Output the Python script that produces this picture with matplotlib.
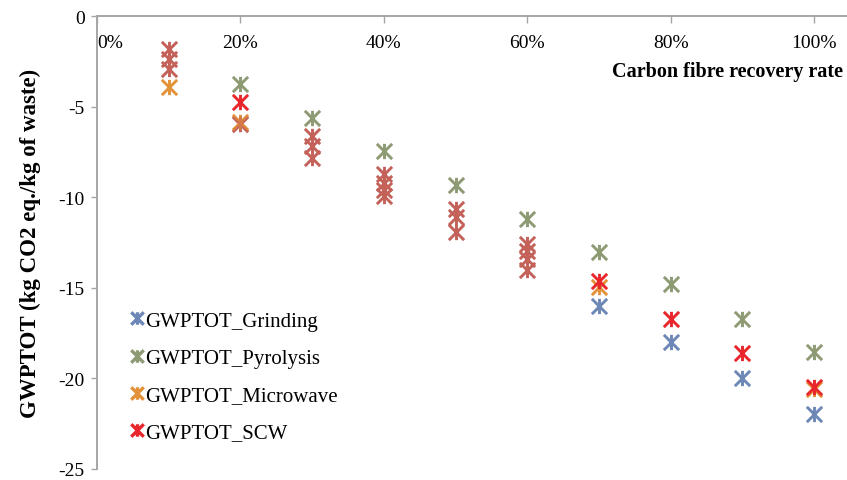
import matplotlib

matplotlib.use("Agg")
import matplotlib.pyplot as plt
from matplotlib.path import Path
from matplotlib.lines import Line2D

plt.rcParams["font.family"] = ["Liberation Serif", "DejaVu Serif"]
plt.rcParams["axes.unicode_minus"] = False

# values (kg CO2 eq./kg of waste)
grinding_rate = [70, 80, 90, 100]
grinding = [-16.0, -18.0, -20.0, -21.95]
pyrolysis_rate = [20, 30, 40, 50, 60, 70, 80, 90, 100]
pyrolysis = [-3.75, -5.65, -7.45, -9.3, -11.2, -13.0, -14.8, -16.7, -18.55]
microwave_rate = [10, 20, 70, 100]
microwave = [-3.9, -5.85, -14.95, -20.6]
scw_rate = [20, 70, 80, 90, 100]
scw = [-4.75, -14.65, -16.7, -18.6, -20.45]
# markers of several series stacked on each other (drawn blended, brown-red)
overlap_rate = [10, 10, 10, 20, 30, 30, 30, 40, 40, 40, 40,
                50, 50, 50, 60, 60, 60, 60]
overlap = [-1.8, -2.35, -2.9, -5.95, -6.6, -7.2, -7.85, -8.7, -9.2, -9.6, -9.95,
           -10.65, -11.1, -11.9, -12.6, -12.95, -13.4, -14.0]

x_ticks = [0, 20, 40, 60, 80, 100]
y_ticks = [0, -5, -10, -15, -20, -25]

# X with a vertical bar, like the spreadsheet "star" marker
STAR = Path([(-1, -1), (1, 1), (-1, 1), (1, -1), (0, -1), (0, 1)],
            [Path.MOVETO, Path.LINETO] * 3)

C_GRIND = "#6d87b7"
C_PYRO = "#8e9a74"
C_MICRO = "#e3923a"
C_SCW = "#e8262b"
C_MIX = "#c4625a"

fig = plt.figure(figsize=(8.47, 4.81), dpi=100)
ax = fig.add_axes([97 / 847, 11 / 481, 750 / 847, 453 / 481])

# spine moves first: it resets the tick labels
for side in ("top", "right"):
    ax.spines[side].set_visible(False)
ax.spines["bottom"].set_position(("data", 0))
for side in ("bottom", "left"):
    ax.spines[side].set_color("#a6a6a6")
    ax.spines[side].set_linewidth(1.4)

ms, mew = 11, 2.1
kw = dict(marker=STAR, ls="none", markersize=ms, markeredgewidth=mew)
ax.plot(overlap_rate, overlap, color=C_MIX, **kw)
ax.plot(microwave_rate, microwave, color=C_MICRO, **kw)
ax.plot(pyrolysis_rate, pyrolysis, color=C_PYRO, **kw)
ax.plot(grinding_rate, grinding, color=C_GRIND, **kw)
ax.plot(scw_rate, scw, color=C_SCW, **kw)
ax.plot([20], [-5.95], color=C_MIX, alpha=0.5, **kw)

ax.set_xlim(0, 104.6)
ax.set_ylim(-25, 0)
ax.tick_params(axis="x", direction="out", length=5, width=1, color="#a6a6a6",
               pad=8, labelsize=14)
ax.tick_params(axis="y", direction="out", length=4, width=1, color="#a6a6a6",
               pad=5, labelsize=14)
ax.set_xticks(x_ticks)
ax.set_xticklabels([f"{t}%" for t in x_ticks])
ax.set_yticks(y_ticks)
ax.set_yticklabels([str(t) for t in y_ticks])
ax.get_xticklabels()[0].set_horizontalalignment("left")

fig.text(843 / 847, 1 - 72 / 481, "Carbon fibre recovery rate", fontsize=14.5,
         fontweight="bold", ha="right", va="center")
fig.text(30 / 847, 1 - 243 / 481, "GWPTOT (kg CO2 eq./kg of waste)",
         fontsize=16.5, fontweight="bold", rotation=90, ha="center",
         va="center")

handles = [
    Line2D([], [], color=c, marker=STAR, ls="none", markersize=9,
           markeredgewidth=2.4)
    for c in (C_GRIND, C_PYRO, C_MICRO, C_SCW)
]
labels = ["GWPTOT_Grinding", "GWPTOT_Pyrolysis", "GWPTOT_Microwave",
          "GWPTOT_SCW"]
ax.legend(handles, labels, loc="upper left",
          bbox_to_anchor=(131 / 847, 1 - 312 / 481),
          bbox_transform=fig.transFigure, frameon=False, fontsize=15,
          handlelength=0.6, handletextpad=0.1, labelspacing=0.85,
          borderpad=0, borderaxespad=0)

fig.savefig("out.png", dpi=100)
